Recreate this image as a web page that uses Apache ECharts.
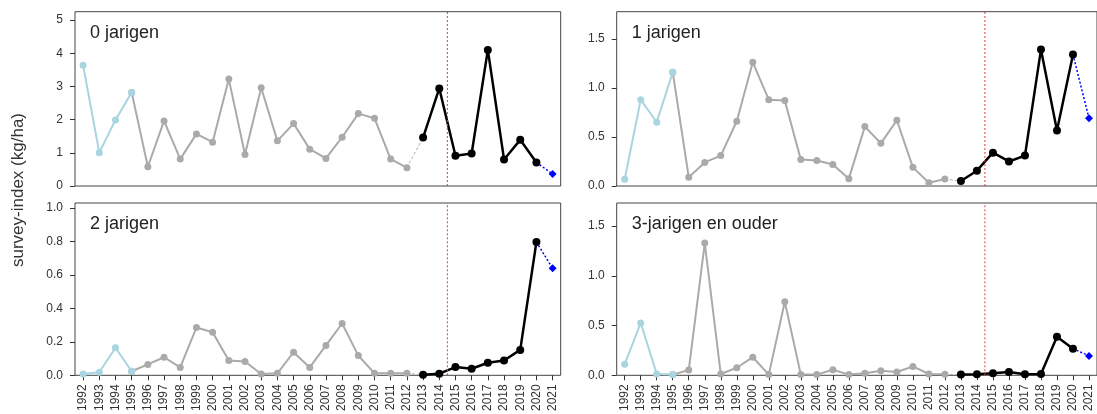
<!DOCTYPE html>
<html>
<head>
<meta charset="utf-8">
<script src="https://cdn.jsdelivr.net/npm/echarts@6/dist/echarts.min.js"></script>
<style>
  html, body { margin: 0; padding: 0; background: #ffffff; }
  #chart { width: 1097px; height: 414px; }
</style>
</head>
<body>
<div id="chart"></div>
<script>
// Survey index per age group, 1992-2021 (kg/ha)
const years = [1992, 1993, 1994, 1995, 1996, 1997, 1998, 1999, 2000, 2001,
               2002, 2003, 2004, 2005, 2006, 2007, 2008, 2009, 2010, 2011,
               2012, 2013, 2014, 2015, 2016, 2017, 2018, 2019, 2020, 2021];

const age0 = [3.64, 1.00, 1.99, 2.82, 0.58, 1.96, 0.81, 1.57, 1.32, 3.22,
              0.95, 2.96, 1.36, 1.88, 1.11, 0.83, 1.47, 2.18, 2.04, 0.81,
              0.55, 1.46, 2.94, 0.91, 0.98, 4.10, 0.80, 1.39, 0.71, 0.36];

const age1 = [0.068, 0.88, 0.65, 1.16, 0.089, 0.24, 0.31, 0.66, 1.26, 0.88,
              0.87, 0.27, 0.26, 0.22, 0.075, 0.605, 0.435, 0.67, 0.19, 0.034,
              0.071, 0.051, 0.156, 0.34, 0.25, 0.31, 1.39, 0.565, 1.34, 0.69];

const age2 = [0.008, 0.018, 0.165, 0.024, 0.065, 0.108, 0.047, 0.286, 0.258, 0.089,
              0.083, 0.008, 0.012, 0.138, 0.047, 0.179, 0.31, 0.118, 0.012, 0.012,
              0.012, 0.004, 0.010, 0.049, 0.039, 0.075, 0.089, 0.152, 0.797, 0.64];

const age3plus = [0.112, 0.527, 0.013, 0.007, 0.053, 1.33, 0.013, 0.076, 0.182, 0.007,
                  0.74, 0.007, 0.007, 0.056, 0.007, 0.020, 0.046, 0.033, 0.089, 0.013,
                  0.010, 0.007, 0.010, 0.020, 0.033, 0.010, 0.013, 0.387, 0.268, 0.195];

const panelTitles = ['0 jarigen', '1 jarigen', '2 jarigen', '3-jarigen en ouder'];

const yTicks0 = [0, 1, 2, 3, 4, 5];
const yTicks1 = [0, 0.5, 1, 1.5];
const yTicks2 = [0, 0.2, 0.4, 0.6, 0.8, 1.0];
const yTicks3 = [0, 0.5, 1, 1.5];

const yAxisTitle = 'survey-index (kg/ha)';

// Survey periods (indices into years)
const earlyEnd = 3;      // 1992-1995
const midEnd = 20;       // 1995-2012
const recentStart = 21;  // 2013-2020
const recentEnd = 28;
const forecastIdx = 29;  // 2021
const changeYear = 2014.5;

const panels = [
  { values: age0,     ymax: 5.25,  ticks: yTicks0, dec: 0, left: 75,    top: 11.7, bottomRow: false },
  { values: age1,     ymax: 1.776, ticks: yTicks1, dec: 1, left: 616.7, top: 11.7, bottomRow: false },
  { values: age2,     ymax: 1.031, ticks: yTicks2, dec: 1, left: 75,    top: 203,  bottomRow: true },
  { values: age3plus, ymax: 1.733, ticks: yTicks3, dec: 1, left: 616.7, top: 203,  bottomRow: true }
];

const PANEL_W = 485.7;
const PANEL_H = 174.3;
const FONT = '"Liberation Sans", Arial, sans-serif';
const LIGHTBLUE = '#a8d5e0';
const GREY = '#aaaaaa';
const BOUNDARY_RED = '#e03a3a';

function pairs(vals, from, to) {
  const out = [];
  for (let i = from; i <= to; i++) out.push([years[i], vals[i]]);
  return out;
}

const grid = [], xAxis = [], yAxis = [], series = [], graphic = [];

panels.forEach((p, k) => {
  grid.push({
    left: p.left, top: p.top, width: PANEL_W, height: PANEL_H,
    show: true, borderColor: '#444', borderWidth: 1, backgroundColor: 'transparent',
    containLabel: false
  });
  xAxis.push({
    type: 'value', gridIndex: k, min: 1991.5, max: 2021.5,
    axisLine: { show: false },
    splitLine: { show: false },
    axisTick: {
      show: p.bottomRow, length: 5, customValues: years,
      lineStyle: { color: '#333', width: 1 }
    },
    axisLabel: {
      show: p.bottomRow, customValues: years, rotate: 90, margin: 9,
      fontSize: 12, fontFamily: FONT, color: '#333',
      formatter: v => String(v)
    }
  });
  yAxis.push({
    type: 'value', gridIndex: k, min: 0, max: p.ymax,
    axisLine: { show: false },
    splitLine: { show: false },
    axisTick: {
      show: true, length: 5, customValues: p.ticks,
      lineStyle: { color: '#333', width: 1 }
    },
    axisLabel: {
      customValues: p.ticks, margin: 12, fontSize: 12, fontFamily: FONT, color: '#333',
      formatter: v => Number(v).toFixed(p.dec)
    }
  });

  // boundary between 2014 and 2015 (red dotted), spanning the full y range
  series.push({
    type: 'line', xAxisIndex: k, yAxisIndex: k, z: 5,
    data: [[changeYear, 0], [changeYear, p.ymax]],
    symbol: 'none',
    lineStyle: { color: BOUNDARY_RED, type: [2, 2], width: 1 },
    animation: false, silent: true
  });
  // 1995-2012 series (grey)
  series.push({
    type: 'line', xAxisIndex: k, yAxisIndex: k, z: 2,
    data: pairs(p.values, earlyEnd, midEnd),
    symbol: 'circle', symbolSize: 7, showSymbol: true,
    lineStyle: { color: GREY, width: 2 },
    itemStyle: { color: GREY },
    animation: false, silent: true
  });
  // 1992-1995 series (light blue)
  series.push({
    type: 'line', xAxisIndex: k, yAxisIndex: k, z: 3,
    data: pairs(p.values, 0, earlyEnd),
    symbol: 'circle', symbolSize: 7,
    lineStyle: { color: LIGHTBLUE, width: 2 },
    itemStyle: { color: LIGHTBLUE },
    animation: false, silent: true
  });
  // link between the two surveys (thin grey dashes)
  series.push({
    type: 'line', xAxisIndex: k, yAxisIndex: k, z: 1,
    data: pairs(p.values, midEnd, recentStart),
    symbol: 'none',
    lineStyle: { color: '#b0b0b0', width: 1, type: [3, 2] },
    animation: false, silent: true
  });
  // 2013-2020 series (black)
  series.push({
    type: 'line', xAxisIndex: k, yAxisIndex: k, z: 4,
    data: pairs(p.values, recentStart, recentEnd),
    symbol: 'circle', symbolSize: 8,
    lineStyle: { color: '#000', width: 2.5 },
    itemStyle: { color: '#000' },
    animation: false, silent: true
  });
  // 2021 (blue, dotted link)
  const fc = pairs(p.values, recentEnd, forecastIdx);
  series.push({
    type: 'line', xAxisIndex: k, yAxisIndex: k, z: 3,
    data: [{ value: fc[0], symbol: 'none' }, { value: fc[1] }],
    symbol: 'diamond', symbolSize: 8,
    lineStyle: { color: '#0000ff', width: 1.5, type: [2, 2] },
    itemStyle: { color: '#0000ff' },
    animation: false, silent: true
  });

  graphic.push({
    type: 'text', left: p.left + 15, top: p.top + 12,
    style: { text: panelTitles[k], font: '18px ' + FONT, fill: '#222' },
    silent: true
  });
});

graphic.push({
  type: 'text', x: 18, y: 190, rotation: Math.PI / 2,
  style: {
    text: yAxisTitle, font: '17px ' + FONT, fill: '#333',
    align: 'center', verticalAlign: 'middle'
  },
  silent: true
});

const chart = echarts.init(document.getElementById('chart'), null, { renderer: 'canvas' });
chart.setOption({
  animation: false,
  backgroundColor: '#ffffff',
  grid, xAxis, yAxis, series, graphic
});
</script>
</body>
</html>
